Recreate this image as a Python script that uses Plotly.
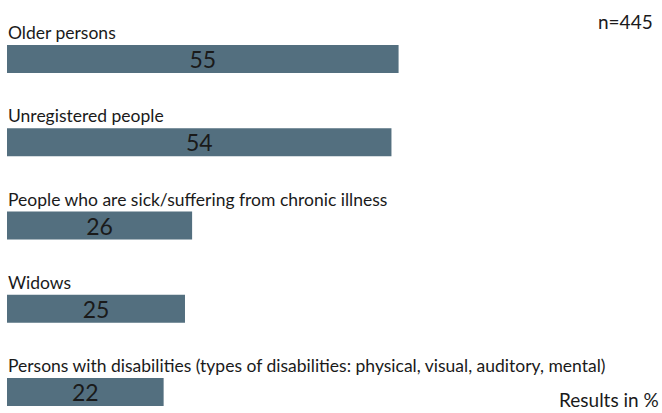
import plotly.graph_objects as go

# Survey results: groups considered vulnerable (share of respondents, %)
categories = [
    "Older persons",
    "Unregistered people",
    "People who are sick/suffering from chronic illness",
    "Widows",
    "Persons with disabilities (types of disabilities: physical, visual, auditory, mental)",
]
values = [55, 54, 26, 25, 22]
sample_note = "n=445"
unit_note = "Results in %"

FONT = "Lato"
BAR_COLOR = "#536f7f"
TEXT_COLOR = "#1a1a1a"

positions = list(range(len(categories)))

fig = go.Figure(
    go.Bar(
        x=values,
        y=positions,
        orientation="h",
        width=0.336,
        marker=dict(color=BAR_COLOR, line=dict(width=0)),
        text=[str(v) for v in values],
        textposition="inside",
        insidetextanchor="middle",
        textangle=0,
        constraintext="none",
        textfont=dict(family=FONT, size=23, color=TEXT_COLOR),
        hoverinfo="skip",
    )
)

# Category label sitting just above each bar
for pos, label in zip(positions, categories):
    fig.add_annotation(
        x=0, y=pos, xref="x", yref="y",
        text=label, showarrow=False,
        xanchor="left", yanchor="bottom",
        yshift=14, xshift=-1,
        font=dict(family=FONT, size=17.5, color=TEXT_COLOR),
    )

fig.add_annotation(
    x=1, y=1, xref="paper", yref="paper",
    text=sample_note, showarrow=False,
    xanchor="right", yanchor="top", xshift=-7, yshift=-8,
    font=dict(family=FONT, size=19, color=TEXT_COLOR),
)
fig.add_annotation(
    x=1, y=0, xref="paper", yref="paper",
    text=unit_note, showarrow=False,
    xanchor="right", yanchor="bottom", xshift=-1, yshift=0,
    font=dict(family=FONT, size=19, color=TEXT_COLOR),
)

fig.update_layout(
    width=662, height=413,
    margin=dict(l=7, r=0, t=0, b=0),
    paper_bgcolor="white", plot_bgcolor="white",
    showlegend=False,
    xaxis=dict(range=[0, 92], visible=False, fixedrange=True),
    yaxis=dict(range=[4.252, -0.709], visible=False, fixedrange=True),
)

fig.write_html("out.html")
